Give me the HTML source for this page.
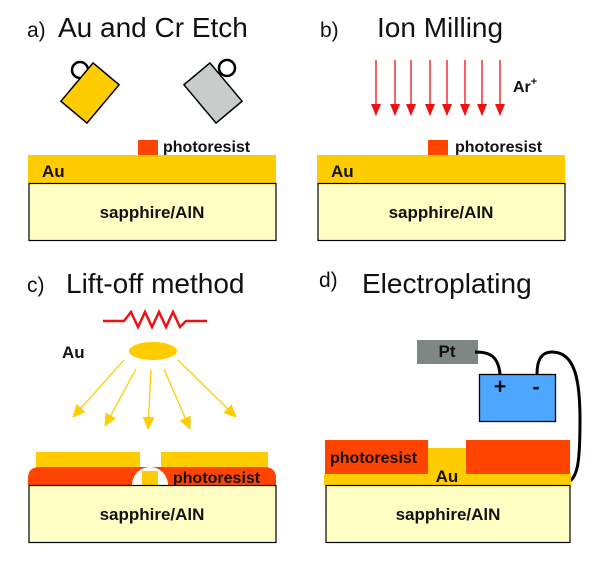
<!DOCTYPE html>
<html><head><meta charset="utf-8"><style>html,body{margin:0;padding:0;background:#fff}svg{display:block}</style></head>
<body>
<svg width="610" height="566" viewBox="0 0 610 566" xmlns="http://www.w3.org/2000/svg" font-family="Liberation Sans, Arial, sans-serif">
<defs>
<marker id="ra" markerWidth="12" markerHeight="10" refX="11" refY="5" orient="auto" markerUnits="userSpaceOnUse"><path d="M0,0 L12,5 L0,10 z" fill="#ee1111"/></marker>
<marker id="ya" markerWidth="13" markerHeight="12" refX="12" refY="6" orient="auto" markerUnits="userSpaceOnUse"><path d="M0,0 L13,6 L0,12 z" fill="#ffcc00"/></marker>
</defs>
<!-- titles -->
<text x="27" y="37" font-size="21" fill="#111">a)</text>
<text x="58" y="37" font-size="28" fill="#111">Au and Cr Etch</text>
<text x="320" y="37" font-size="21" fill="#111">b)</text>
<text x="377" y="37" font-size="28" fill="#111">Ion Milling</text>
<text x="27" y="292" font-size="21" fill="#111">c)</text>
<text x="66" y="293" font-size="28" fill="#111">Lift-off method</text>
<text x="319" y="287" font-size="21" fill="#111">d)</text>
<text x="362" y="293" font-size="28" fill="#111">Electroplating</text>

<!-- panel a -->
<circle cx="80" cy="70" r="8" fill="none" stroke="#000" stroke-width="2.5"/>
<rect x="-17" y="-25" width="34" height="50" transform="translate(90,93) rotate(40)" fill="#ffcc00" stroke="#000" stroke-width="1.5"/>
<circle cx="227" cy="68" r="8" fill="none" stroke="#000" stroke-width="2.5"/>
<rect x="-17" y="-25" width="34" height="50" transform="translate(213,93) rotate(-40)" fill="#c8cccb" stroke="#000" stroke-width="1.5"/>
<rect x="138" y="140" width="20" height="15" fill="#ff4400"/>
<text x="163" y="152" font-size="16" font-weight="bold" fill="#111">photoresist</text>
<rect x="28" y="155" width="248" height="28" fill="#ffcc00"/>
<text x="42" y="177" font-size="17" font-weight="bold" fill="#111">Au</text>
<rect x="29" y="183.5" width="247" height="57" fill="#ffffc4" stroke="#000" stroke-width="1.2"/>
<text x="152" y="218" font-size="17" font-weight="bold" fill="#111" text-anchor="middle">sapphire/AlN</text>

<!-- panel b -->
<g stroke="#ee1111" stroke-width="1.3" marker-end="url(#ra)">
<line x1="376" y1="60" x2="376" y2="115"/><line x1="395" y1="60" x2="395" y2="115"/>
<line x1="411" y1="60" x2="411" y2="115"/><line x1="430" y1="60" x2="430" y2="115"/>
<line x1="447" y1="60" x2="447" y2="115"/><line x1="465" y1="60" x2="465" y2="115"/>
<line x1="482" y1="60" x2="482" y2="115"/><line x1="500" y1="60" x2="500" y2="115"/>
</g>
<text x="513" y="92" font-size="16" font-weight="bold" fill="#111">Ar<tspan font-size="11" dy="-7">+</tspan></text>
<rect x="428" y="140" width="20" height="15" fill="#ff4400"/>
<text x="455" y="152" font-size="16" font-weight="bold" fill="#111">photoresist</text>
<rect x="317" y="155" width="248" height="28" fill="#ffcc00"/>
<text x="331" y="177" font-size="17" font-weight="bold" fill="#111">Au</text>
<rect x="318" y="183.5" width="247" height="57" fill="#ffffc4" stroke="#000" stroke-width="1.2"/>
<text x="441" y="218" font-size="17" font-weight="bold" fill="#111" text-anchor="middle">sapphire/AlN</text>

<!-- panel c -->
<polyline points="103,321 124,321 131,312 138,327 145,312 152,327 159,312 166,327 173,312 180,327 186,321 207,321" fill="none" stroke="#ee1111" stroke-width="2.5"/>
<ellipse cx="153" cy="351" rx="24" ry="9" fill="#ffcc00"/>
<text x="62" y="358" font-size="17" font-weight="bold" fill="#111">Au</text>
<g stroke="#ffcc00" stroke-width="1.3" marker-end="url(#ya)">
<line x1="124" y1="360" x2="73" y2="417"/>
<line x1="136" y1="369" x2="105" y2="426"/>
<line x1="151" y1="370" x2="148" y2="429"/>
<line x1="164" y1="369" x2="190" y2="429"/>
<line x1="178" y1="360" x2="236" y2="417"/>
</g>
<rect x="36" y="452" width="104" height="16" fill="#ffcc00"/>
<rect x="161" y="452" width="107" height="16" fill="#ffcc00"/>
<path d="M28,485 L28,478 Q28,467 40,467 L264,467 Q276,467 276,478 L276,485 Z" fill="#ff4400"/>
<path d="M132,485 A18,18 0 0 1 168,485 Z" fill="#fff"/>
<rect x="142" y="471" width="16" height="14" fill="#ffcc00"/>
<text x="173" y="483" font-size="16" font-weight="bold" fill="#111">photoresist</text>
<rect x="29" y="485.5" width="247" height="57" fill="#ffffc4" stroke="#000" stroke-width="1.2"/>
<text x="152" y="520" font-size="17" font-weight="bold" fill="#111" text-anchor="middle">sapphire/AlN</text>

<!-- panel d -->
<rect x="417" y="340" width="61" height="24" fill="#7f8786"/>
<text x="447" y="357" font-size="17" font-weight="bold" fill="#111" text-anchor="middle">Pt</text>
<rect x="479.5" y="374.5" width="76" height="47" fill="#4da6ff" stroke="#000" stroke-width="1.3"/>
<text x="500" y="394" font-size="22" font-weight="bold" fill="#111" text-anchor="middle">+</text>
<text x="536" y="394" font-size="22" font-weight="bold" fill="#111" text-anchor="middle">-</text>
<path d="M475,352 C490,352 498,356 500,374" fill="none" stroke="#000" stroke-width="3"/>
<path d="M537,374 C537,362 540,352 552,352 C575,352 580,380 580,420 C580,460 578,478 568,482" fill="none" stroke="#000" stroke-width="3"/>
<rect x="324" y="474" width="247" height="11" fill="#ffcc00"/>
<rect x="428" y="448" width="38" height="27" fill="#ffcc00"/>
<rect x="325" y="440" width="103" height="34" fill="#ff4400"/>
<rect x="466" y="440" width="104" height="34" fill="#ff4400"/>
<text x="330" y="463" font-size="16" font-weight="bold" fill="#111">photoresist</text>
<text x="447" y="482" font-size="17" font-weight="bold" fill="#111" text-anchor="middle">Au</text>
<rect x="326" y="485.5" width="244" height="57" fill="#ffffc4" stroke="#000" stroke-width="1.2"/>
<text x="448" y="520" font-size="17" font-weight="bold" fill="#111" text-anchor="middle">sapphire/AlN</text>
</svg>
</body></html>
